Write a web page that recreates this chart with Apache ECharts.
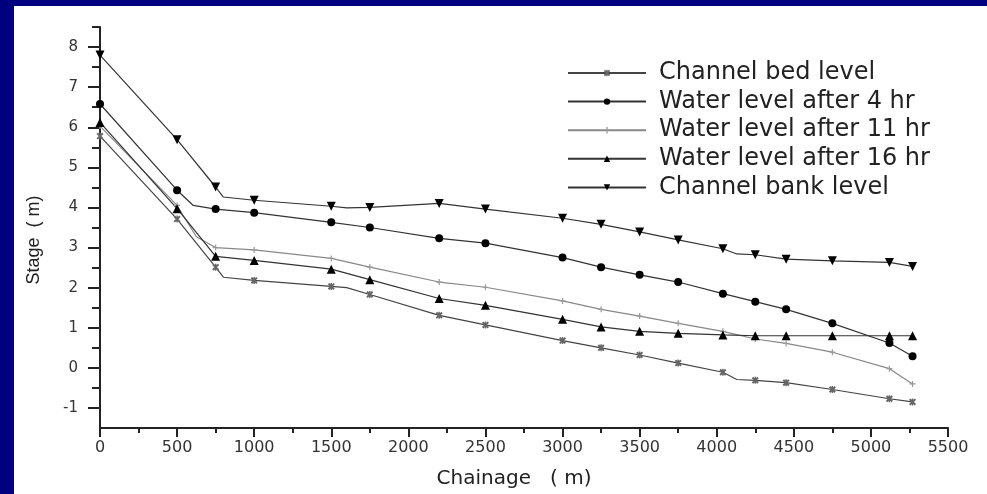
<!DOCTYPE html>
<html>
<head>
<meta charset="utf-8">
<script src="https://cdn.jsdelivr.net/npm/echarts@6/dist/echarts.min.js"></script>
<style>
  html, body { margin: 0; padding: 0; background: #00007f; width: 987px; height: 494px; overflow: hidden; }
  #chart { position: absolute; left: 14px; top: 6px; width: 973px; height: 488px; background: #ffffff; }
</style>
</head>
<body>
<div id="chart"></div>
<script>
// ---- data ----
const seriesNames = ['Channel bed level', 'Water level after 4 hr', 'Water level after 11 hr', 'Water level after 16 hr', 'Channel bank level'];

const bedX    = [0, 500, 750, 800, 1000, 1500, 1600, 1750, 2200, 2500, 3000, 3250, 3500, 3750, 4040, 4130, 4250, 4450, 4750, 5120, 5270];
const bedY    = [5.78, 3.71, 2.51, 2.26, 2.18, 2.03, 2.00, 1.83, 1.31, 1.07, 0.68, 0.50, 0.32, 0.12, -0.11, -0.29, -0.31, -0.37, -0.54, -0.77, -0.85];
const bedMark = [1, 1, 1, 0, 1, 1, 0, 1, 1, 1, 1, 1, 1, 1, 1, 0, 1, 1, 1, 1, 1];

const w4X    = [0, 500, 605, 750, 1000, 1500, 1750, 2200, 2500, 3000, 3250, 3500, 3750, 4040, 4250, 4450, 4750, 5120, 5270];
const w4Y    = [6.58, 4.43, 4.05, 3.96, 3.87, 3.63, 3.50, 3.23, 3.11, 2.75, 2.51, 2.32, 2.14, 1.85, 1.65, 1.46, 1.11, 0.62, 0.29];
const w4Mark = [1, 1, 0, 1, 1, 1, 1, 1, 1, 1, 1, 1, 1, 1, 1, 1, 1, 1, 1];

const w11X    = [0, 500, 625, 750, 1000, 1500, 1750, 2200, 2500, 3000, 3250, 3500, 3750, 4040, 4250, 4450, 4750, 5120, 5270];
const w11Y    = [6.03, 4.05, 3.27, 3.00, 2.94, 2.73, 2.51, 2.14, 2.01, 1.67, 1.46, 1.29, 1.11, 0.91, 0.72, 0.61, 0.39, -0.02, -0.40];
const w11Mark = [1, 1, 0, 1, 1, 1, 1, 1, 1, 1, 1, 1, 1, 1, 1, 1, 1, 1, 1];

const w16X    = [0, 500, 750, 1000, 1500, 1750, 2200, 2500, 3000, 3250, 3500, 3750, 4040, 4250, 4450, 4750, 5120, 5270];
const w16Y    = [6.12, 3.97, 2.78, 2.68, 2.46, 2.20, 1.73, 1.56, 1.21, 1.02, 0.91, 0.86, 0.82, 0.80, 0.80, 0.80, 0.80, 0.80];
const w16Mark = [1, 1, 1, 1, 1, 1, 1, 1, 1, 1, 1, 1, 1, 1, 1, 1, 1, 1];

const bankX    = [0, 500, 750, 800, 1000, 1500, 1600, 1750, 2200, 2500, 3000, 3250, 3500, 3750, 4040, 4130, 4250, 4450, 4750, 5120, 5270];
const bankY    = [7.80, 5.69, 4.51, 4.26, 4.18, 4.03, 3.99, 4.00, 4.10, 3.96, 3.73, 3.58, 3.39, 3.19, 2.97, 2.84, 2.82, 2.71, 2.67, 2.63, 2.53];
const bankMark = [1, 1, 1, 0, 1, 1, 0, 1, 1, 1, 1, 1, 1, 1, 1, 0, 1, 1, 1, 1, 1];

const xTicks = [0, 500, 1000, 1500, 2000, 2500, 3000, 3500, 4000, 4500, 5000, 5500];
const yTicks = [-1, 0, 1, 2, 3, 4, 5, 6, 7, 8];
const yMinorTicks = [-0.5, 0.5, 1.5, 2.5, 3.5, 4.5, 5.5, 6.5, 7.5, 8.5];

// ---- build ----
function pts(xs, ys, marks) {
  return xs.map((x, i) => marks[i] ? [x, ys[i]] : { value: [x, ys[i]], symbol: 'none' });
}

const asterisk = 'path://M0,1L1,0L5,4L4,5Z M4,0L5,1L1,5L0,4Z M2,0H3V5H2Z';
const plus = 'path://M2,0H3V2H5V3H3V5H2V3H0V2H2Z';

const chart = echarts.init(document.getElementById('chart'), null, { renderer: 'canvas' });

const plain = v => String(v);

chart.setOption({
  animation: false,
  backgroundColor: '#ffffff',
  grid: { left: 86, right: 39, top: 21, bottom: 62, containLabel: false },
  legend: {
    orient: 'vertical',
    left: 548,
    top: 50,
    itemWidth: 78,
    itemHeight: 8,
    itemGap: 4.6,
    textStyle: { fontFamily: 'DejaVu Sans', fontSize: 24, lineHeight: 24, color: '#222', padding: [0, 0, 0, 8] },
    data: seriesNames
  },
  xAxis: {
    type: 'value',
    min: 0, max: 5500, interval: 500,
    name: 'Chainage   ( m)',
    nameLocation: 'middle',
    nameGap: 41,
    nameTextStyle: { fontFamily: 'DejaVu Sans', fontSize: 20, color: '#222', padding: [0, 20, 0, 0] },
    axisLine: { onZero: false, lineStyle: { color: '#222', width: 2 } },
    axisTick: { show: true, inside: false, length: 9, lineStyle: { color: '#222', width: 2 } },
    minorTick: { show: true, splitNumber: 2, length: 5, lineStyle: { color: '#222', width: 2 } },
    axisLabel: { margin: 12, customValues: xTicks, formatter: plain, fontFamily: 'DejaVu Sans', fontSize: 16, color: '#333' },
    splitLine: { show: false },
    minorSplitLine: { show: false }
  },
  yAxis: [
    {
      type: 'value',
      min: -1.5, max: 8.5,
      name: 'Stage  ( m)',
      nameLocation: 'middle',
      nameGap: 57,
      nameTextStyle: { fontFamily: 'Liberation Sans', fontSize: 18, color: '#222', padding: [0, 25, 0, 0] },
      axisLine: { show: true, onZero: false, lineStyle: { color: '#222', width: 2 } },
      axisTick: { show: true, inside: false, length: 12, customValues: yTicks, lineStyle: { color: '#222', width: 2 } },
      axisLabel: { margin: 22, customValues: yTicks, formatter: plain, fontFamily: 'DejaVu Sans', fontSize: 15, color: '#333' },
      splitLine: { show: false }
    },
    {
      type: 'value',
      min: -1.5, max: 8.5,
      position: 'left',
      axisLine: { show: false, onZero: false },
      axisTick: { show: true, inside: false, length: 8, customValues: yMinorTicks, lineStyle: { color: '#222', width: 2 } },
      axisLabel: { show: false },
      splitLine: { show: false }
    }
  ],
  series: [
    {
      name: seriesNames[0], type: 'line', data: pts(bedX, bedY, bedMark),
      symbol: asterisk, symbolSize: 7,
      lineStyle: { color: '#444', width: 1.2 }, itemStyle: { color: '#666' }
    },
    {
      name: seriesNames[1], type: 'line', data: pts(w4X, w4Y, w4Mark),
      symbol: 'circle', symbolSize: 8,
      lineStyle: { color: '#333', width: 1.2 }, itemStyle: { color: '#000' }
    },
    {
      name: seriesNames[2], type: 'line', data: pts(w11X, w11Y, w11Mark),
      symbol: plus, symbolSize: 6,
      lineStyle: { color: '#888', width: 1.2 }, itemStyle: { color: '#999' }
    },
    {
      name: seriesNames[3], type: 'line', data: pts(w16X, w16Y, w16Mark),
      symbol: 'triangle', symbolSize: 9,
      lineStyle: { color: '#333', width: 1.2 }, itemStyle: { color: '#000' }
    },
    {
      name: seriesNames[4], type: 'line', data: pts(bankX, bankY, bankMark),
      symbol: 'triangle', symbolRotate: 180, symbolSize: 9,
      lineStyle: { color: '#333', width: 1.2 }, itemStyle: { color: '#000' }
    }
  ]
});
</script>
</body>
</html>
